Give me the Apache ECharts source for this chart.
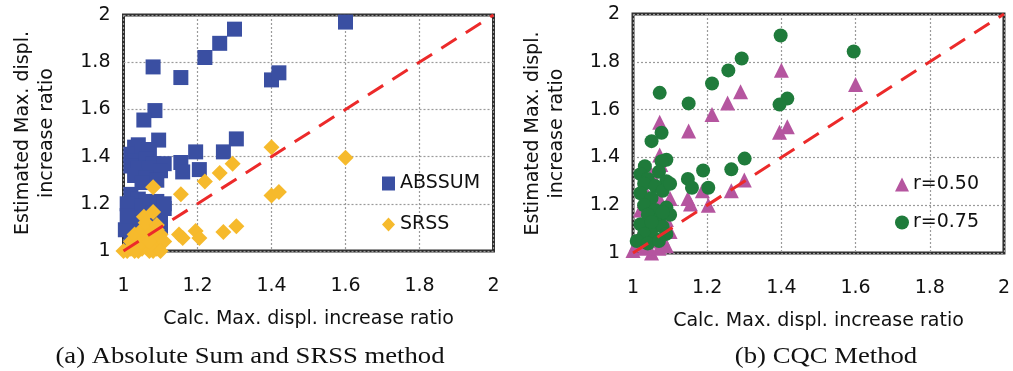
<!DOCTYPE html>
<html>
<head>
<meta charset="utf-8">
<script src="https://cdn.jsdelivr.net/npm/echarts@6/dist/echarts.min.js"></script>
<style>
  html, body { margin: 0; padding: 0; background: #fff; }
  #chart { width: 1013px; height: 371px; }
</style>
</head>
<body>
<div id="chart"></div>
<script>
// Axis ticks shared by both panels
const axisMin = 1;
const axisMax = 2;
const axisStep = 0.2;

// Panel (a): absolute sum (ABSSUM) vs. SRSS estimates [calc, estimated]
const abssum = [
  [1.60, 1.97], [1.30, 1.94], [1.26, 1.88], [1.22, 1.82], [1.08, 1.78], [1.155, 1.735],
  [1.40, 1.725], [1.42, 1.755], [1.085, 1.595], [1.055, 1.555], [1.095, 1.47], [1.305, 1.475],
  [1.27, 1.42], [1.195, 1.42], [1.155, 1.375], [1.205, 1.345], [1.16, 1.335], [1.04, 1.45],
  [1.03, 1.44], [1.02, 1.41], [1.05, 1.42], [1.07, 1.43], [1.03, 1.38], [1.06, 1.39],
  [1.08, 1.37], [1.11, 1.37], [1.02, 1.36], [1.04, 1.35], [1.07, 1.35], [1.10, 1.34],
  [1.03, 1.32], [1.06, 1.31], [1.09, 1.30], [1.05, 1.29], [1.02, 1.24], [1.04, 1.22],
  [1.06, 1.21], [1.09, 1.21], [1.11, 1.20], [1.03, 1.19], [1.05, 1.17], [1.08, 1.16],
  [1.10, 1.15], [1.02, 1.14], [1.04, 1.12], [1.07, 1.11], [1.10, 1.10], [1.03, 1.08],
  [1.005, 1.09], [1.06, 1.06], [1.09, 1.05], [1.02, 1.04], [1.05, 1.03], [1.08, 1.02],
  [1.11, 1.18], [1.01, 1.20], [1.01, 1.15]
];
const srss = [
  [1.60, 1.395], [1.40, 1.44], [1.295, 1.37], [1.26, 1.33], [1.22, 1.295], [1.08, 1.27],
  [1.155, 1.24], [1.40, 1.235], [1.42, 1.25], [1.305, 1.105], [1.27, 1.08], [1.195, 1.085],
  [1.205, 1.055], [1.15, 1.07], [1.16, 1.055], [1.055, 1.145], [1.08, 1.165], [1.10, 1.07],
  [1.01, 1.00], [1.02, 1.01], [1.03, 1.02], [1.04, 1.00], [1.05, 1.01], [1.06, 1.03],
  [1.07, 1.00], [1.08, 1.02], [1.09, 1.01], [1.10, 1.03], [1.02, 1.04], [1.04, 1.05],
  [1.06, 1.06], [1.08, 1.08], [1.10, 1.05], [1.03, 1.07], [1.05, 1.09], [1.07, 1.10],
  [1.09, 1.09], [1.06, 1.12], [1.04, 1.03], [1.11, 1.04], [1.00, 1.00], [1.03, 1.00],
  [1.08, 1.00], [1.10, 1.00], [1.09, 1.11], [1.07, 1.04]
];

// Panel (b): CQC estimates for two correlation levels [calc, estimated]
const cqc050 = [
  [1.60, 1.705], [1.40, 1.765], [1.29, 1.675], [1.255, 1.628], [1.213, 1.58], [1.072, 1.547],
  [1.15, 1.51], [1.395, 1.505], [1.416, 1.528], [1.30, 1.305], [1.265, 1.26], [1.203, 1.20],
  [1.155, 1.205], [1.148, 1.228], [1.187, 1.26], [1.10, 1.228], [1.072, 1.41], [1.075, 1.37],
  [1.07, 1.23], [1.04, 1.24], [1.02, 1.18], [1.03, 1.22], [1.05, 1.20], [1.06, 1.15],
  [1.09, 1.14], [1.08, 1.12], [1.04, 1.10], [1.02, 1.08], [1.06, 1.05], [1.09, 1.03],
  [1.03, 1.02], [1.00, 1.01], [1.05, 1.00], [1.08, 1.06], [1.10, 1.09], [1.01, 1.04],
  [1.07, 1.02], [1.04, 1.06], [1.06, 1.30], [1.05, 1.33]
];
const cqc075 = [
  [1.595, 1.843], [1.398, 1.91], [1.293, 1.814], [1.257, 1.764], [1.213, 1.709], [1.072, 1.67],
  [1.15, 1.626], [1.416, 1.646], [1.395, 1.621], [1.077, 1.503], [1.05, 1.468], [1.301, 1.395],
  [1.265, 1.35], [1.189, 1.345], [1.148, 1.31], [1.159, 1.273], [1.203, 1.273], [1.09, 1.39],
  [1.077, 1.384], [1.032, 1.363], [1.02, 1.33], [1.04, 1.31], [1.07, 1.34], [1.09, 1.30],
  [1.03, 1.29], [1.06, 1.28], [1.02, 1.25], [1.05, 1.23], [1.08, 1.26], [1.10, 1.29],
  [1.03, 1.20], [1.06, 1.18], [1.09, 1.19], [1.04, 1.16], [1.07, 1.14], [1.02, 1.12],
  [1.05, 1.10], [1.08, 1.11], [1.10, 1.16], [1.03, 1.08], [1.06, 1.06], [1.09, 1.08],
  [1.01, 1.05], [1.04, 1.04], [1.07, 1.05], [1.05, 1.13], [1.08, 1.17]
];

// 1:1 reference line
const equality = [[1, 1], [2, 2]];

const xTitle = 'Calc. Max. displ. increase ratio';
const yTitle = 'Estimated Max. displ.\nincrease ratio';
const captionA = '(a) Absolute Sum and SRSS method';
const captionB = '(b) CQC Method';

const FONT = 'DejaVu Sans';
const COLORS = {
  abssum: '#3a4fa2',
  srss: '#f6ba2c',
  r050: '#b5559f',
  r075: '#1f7b3b',
  line: '#ec2a2a'
};

function xAxisFor(gridIndex) {
  return {
    gridIndex, type: 'value', min: axisMin, max: axisMax, interval: axisStep,
    name: xTitle, nameLocation: 'middle', nameGap: 59,
    nameTextStyle: { fontFamily: FONT, fontSize: 19, color: '#111' },
    axisLine: { show: false }, axisTick: { show: false },
    axisLabel: { margin: 26, fontFamily: FONT, fontSize: 19, color: '#111' },
    splitLine: { show: true, lineStyle: { color: '#9a9a9a', type: [2, 2], width: 1.2 } }
  };
}
function yAxisFor(gridIndex) {
  return {
    gridIndex, type: 'value', min: axisMin, max: axisMax, interval: axisStep,
    name: yTitle, nameLocation: 'middle', nameGap: 64, nameRotate: 90,
    nameTextStyle: { fontFamily: FONT, fontSize: 19, color: '#111', lineHeight: 24 },
    axisLine: { show: false }, axisTick: { show: false },
    axisLabel: { margin: 13, fontFamily: FONT, fontSize: 19, color: '#111' },
    splitLine: { show: true, lineStyle: { color: '#9a9a9a', type: [2, 2], width: 1.2 } }
  };
}
function scatter(name, data, idx, symbol, size, color) {
  return {
    name, type: 'scatter', xAxisIndex: idx, yAxisIndex: idx, data,
    symbol, symbolSize: size, itemStyle: { color, opacity: 1 }, z: 3,
    emphasis: { disabled: true }
  };
}
function refLine(idx) {
  return {
    type: 'line', xAxisIndex: idx, yAxisIndex: idx, data: equality,
    symbol: 'none', silent: true, z: 4,
    lineStyle: { color: COLORS.line, width: 3, type: [18, 11] }
  };
}
function caption(text, cx) {
  return {
    type: 'text', x: cx, y: 357, scaleX: 1.16,
    style: { text, x: 0, y: 0, textAlign: 'center', textVerticalAlign: 'middle',
             font: '23px "Liberation Serif"', fill: '#111' }
  };
}

const chart = echarts.init(document.getElementById('chart'), null, { renderer: 'canvas' });
chart.setOption({
  animation: false,
  backgroundColor: '#fff',
  grid: [
    { left: 123.5, top: 15, width: 370, height: 236, show: true, borderColor: '#2e2e2e', borderWidth: 3, backgroundColor: 'transparent' },
    { left: 633, top: 14, width: 375, height: 239, show: true, borderColor: '#2e2e2e', borderWidth: 3, backgroundColor: 'transparent' }
  ],
  xAxis: [xAxisFor(0), xAxisFor(1)],
  yAxis: [yAxisFor(0), yAxisFor(1)],
  legend: [
    {
      data: [{ name: 'ABSSUM', icon: 'rect' }, { name: 'SRSS', icon: 'diamond' }],
      orient: 'vertical', left: 377, top: 169, itemGap: 22,
      itemWidth: 13, itemHeight: 14,
      textStyle: { fontFamily: FONT, fontSize: 19, color: '#111', padding: [0, 0, 0, 0] }
    },
    {
      data: [{ name: 'r=0.50', icon: 'triangle' }, { name: 'r=0.75', icon: 'circle' }],
      orient: 'vertical', left: 890, top: 170, itemGap: 19,
      itemWidth: 14, itemHeight: 14,
      textStyle: { fontFamily: FONT, fontSize: 19, color: '#111', padding: [0, 0, 0, -1] }
    }
  ],
  graphic: [caption(captionA, 250), caption(captionB, 826)],
  series: [
    scatter('ABSSUM', abssum, 0, 'rect', 15, COLORS.abssum),
    scatter('SRSS', srss, 0, 'diamond', 16, COLORS.srss),
    refLine(0),
    scatter('r=0.50', cqc050, 1, 'triangle', 15, COLORS.r050),
    scatter('r=0.75', cqc075, 1, 'circle', 14, COLORS.r075),
    refLine(1)
  ]
});
</script>
</body>
</html>
